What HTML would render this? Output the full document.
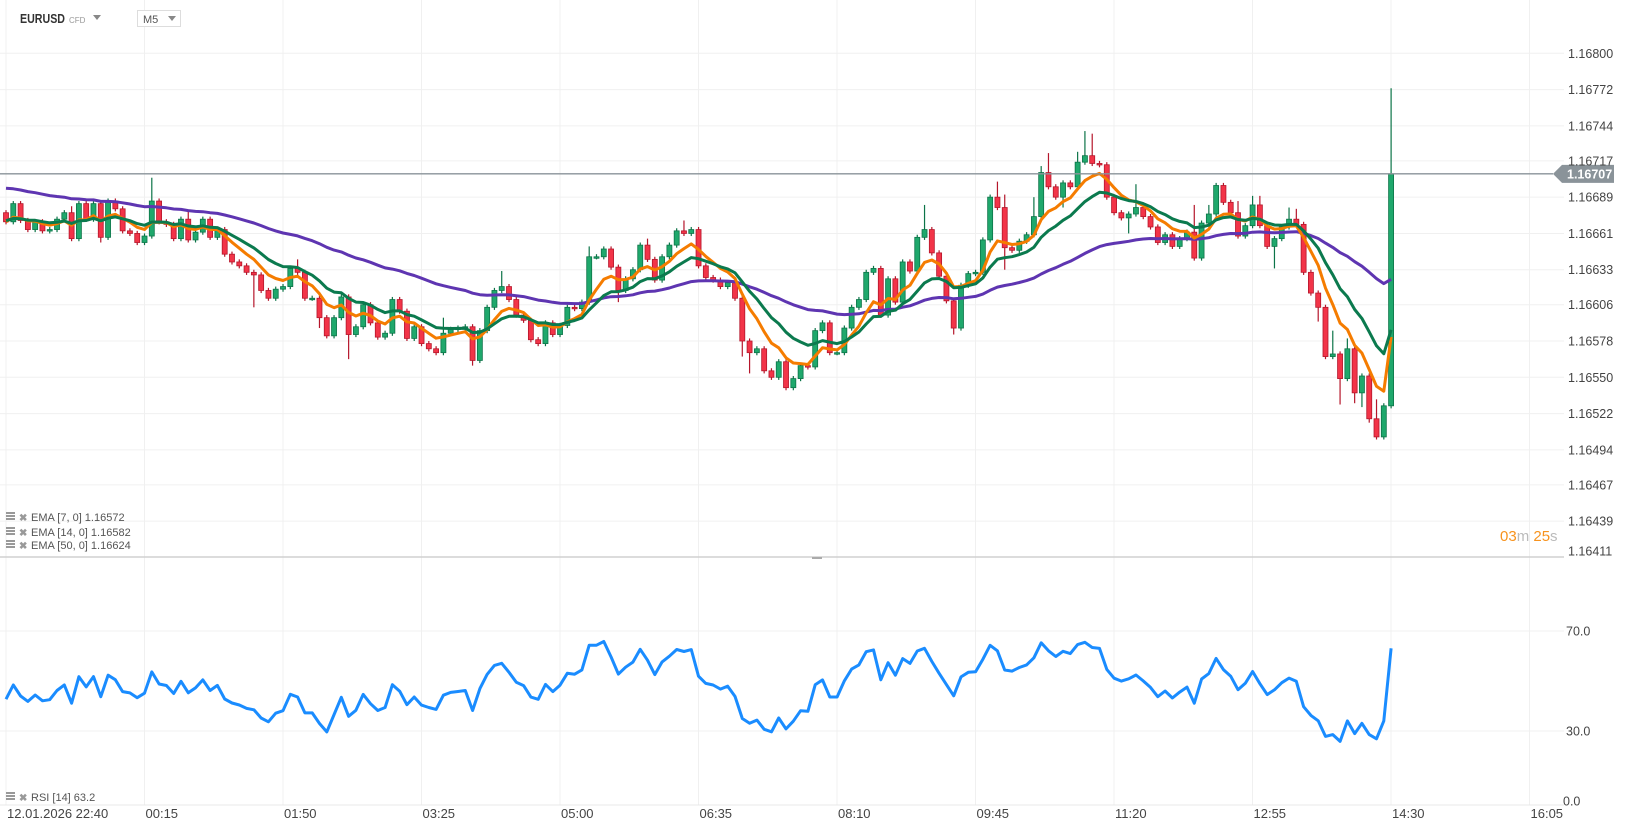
<!DOCTYPE html>
<html><head><meta charset="utf-8"><title>EURUSD M5</title>
<style>
html,body{margin:0;padding:0;background:#fff;width:1626px;height:831px;overflow:hidden;}
svg{display:block;font-family:"Liberation Sans",Arial,sans-serif;}
</style></head>
<body>
<svg id="chart" width="1626" height="831" viewBox="0 0 1626 831" xmlns="http://www.w3.org/2000/svg">
  <g id="grid"></g>
  <g id="header">
    <text x="20" y="23" font-size="13" font-weight="bold" fill="#333" textLength="45" lengthAdjust="spacingAndGlyphs">EURUSD</text>
    <text x="69" y="23" font-size="8" fill="#999">CFD</text>
    <path d="M93 15 L101 15 L97 20 Z" fill="#888"/>
    <rect x="137.5" y="10.5" width="43" height="16" fill="#fff" stroke="#ddd"/>
    <text x="143" y="23" font-size="11" fill="#555">M5</text>
    <path d="M168 16 L176 16 L172 21 Z" fill="#888"/>
  </g>
  <g id="candles"></g>
  <g id="emas"></g>
  <g id="rsi"></g>
  <g id="axes"></g>
  <g id="legend"></g>
</svg>
<script>
// ---------- data ----------
const firstOpen = 1.16677;
const closes = [
1.16670,1.16684,1.16671,1.16664,1.16670,1.16663,1.16664,1.16672,1.16677,1.16657,
1.16684,1.16672,1.16684,1.16658,1.16686,1.16680,1.16663,1.16661,1.16654,1.16659,
1.16686,1.16670,1.16668,1.16657,1.16672,1.16656,1.16662,1.16672,1.16658,1.16664,
1.16645,1.16639,1.16636,1.16631,1.16629,1.16617,1.16611,1.16618,1.16620,1.16634,
1.16631,1.16611,1.16611,1.16596,1.16582,1.16596,1.16612,1.16583,1.16589,1.16606,
1.16592,1.16581,1.16584,1.16610,1.16601,1.16580,1.16589,1.16576,1.16572,1.16569,
1.16584,1.16587,1.16588,1.16589,1.16563,1.16586,1.16604,1.16617,1.16620,1.16610,
1.16598,1.16594,1.16579,1.16576,1.16592,1.16583,1.16590,1.16604,1.16603,1.16608,
1.16643,1.16643,1.16649,1.16635,1.16617,1.16626,1.16633,1.16652,1.16641,1.16625,
1.16643,1.16652,1.16663,1.16661,1.16664,1.16636,1.16627,1.16625,1.16620,1.16623,
1.16611,1.16578,1.16569,1.16572,1.16555,1.16550,1.16562,1.16542,1.16549,1.16559,
1.16558,1.16586,1.16592,1.16569,1.16569,1.16588,1.16604,1.16610,1.16631,1.16634,
1.16598,1.16626,1.16608,1.16639,1.16632,1.16658,1.16664,1.16646,1.16628,1.16609,
1.16588,1.16621,1.16630,1.16631,1.16656,1.16689,1.16681,1.16650,1.16648,1.16655,
1.16660,1.16674,1.16708,1.16697,1.16689,1.16700,1.16697,1.16716,1.16721,1.16715,
1.16714,1.16689,1.16677,1.16673,1.16676,1.16681,1.16674,1.16666,1.16654,1.16660,
1.16651,1.16657,1.16662,1.16642,1.16669,1.16676,1.16698,1.16685,1.16677,1.16659,
1.16667,1.16683,1.16667,1.16651,1.16657,1.16666,1.16672,1.16668,1.16631,1.16615,
1.16604,1.16566,1.16568,1.16549,1.16572,1.16538,1.16551,1.16518,1.16504,1.16528,
1.16707];
const wickUpPips = [
2,2,2,2,2,2,2,2,2,5, 2,2,2,2,2,2,2,2,2,2, 18,2,2,2,2,7,2,2,2,2, 2,2,2,2,2,2,2,2,2,2,
7,2,2,2,2,2,2,2,2,2, 2,2,2,2,2,2,2,2,2,2, 12,2,2,2,2,2,2,2,12,2, 2,2,2,2,2,2,2,2,2,2,
8,2,2,2,2,2,2,2,5,2, 2,2,2,8,2,2,2,2,2,2, 2,2,2,2,2,2,2,2,2,2, 2,2,2,2,2,2,2,2,2,2,
2,2,2,2,2,2,19,2,2,2, 2,2,2,2,2,2,12,10,2,2, 2,15,5,15,2,2,2,8,19,17, 2,2,2,2,2,18,2,2,2,2,
2,2,2,21,2,7,2,2,2,9, 2,7,7,2,2,2,9,8,2,2, 2,2,18,2,8,2,2,2,15,2, 66];
const wickDnPips = [
2,2,2,2,2,2,2,2,2,2, 2,2,2,4,2,2,2,2,2,2, 2,2,2,2,2,2,2,2,2,2, 2,2,2,2,25,2,2,2,2,2,
2,2,2,8,2,2,2,19,2,2, 2,2,2,2,2,2,2,2,2,2, 2,2,2,2,4,2,2,2,2,2, 2,2,2,2,2,2,2,2,2,2,
2,2,2,2,9,2,2,2,2,2, 2,2,2,2,2,2,2,2,2,2, 2,12,16,2,2,2,2,2,2,2, 2,2,2,2,2,2,2,2,2,2,
2,2,2,2,2,2,2,2,2,2, 5,2,2,2,2,2,2,17,2,2, 2,2,2,2,2,8,2,2,2,2, 2,2,2,2,12,2,2,2,2,2,
2,2,2,2,2,2,2,2,2,2, 2,2,2,2,17,2,2,2,2,2, 11,2,2,20,2,8,11,3,2,2, 2];
const emaSeeds = [1.16670, 1.16671, 1.16697];
const emaPeriods = [7, 14, 50];
const emaColors = ["#f57c00", "#0b7a4e", "#5e35b1"];
const rsiSeedGain = 0.000045, rsiSeedLoss = 0.000055;
const priceTicks = [1.16800,1.16772,1.16744,1.16717,1.16689,1.16661,1.16633,1.16606,1.16578,1.16550,1.16522,1.16494,1.16467,1.16439,1.16411];
const timeLabels = ["12.01.2026  22:40","00:15","01:50","03:25","05:00","06:35","08:10","09:45","11:20","12:55","14:30","16:05"];
const rsiTicks = [70, 30, 0];

// ---------- scales ----------
const NS = "http://www.w3.org/2000/svg";
const xOf = i => 6 + 7.29 * i;
const yOf = p => 53.3 + (1.168 - p) * 129600;
const rY = r => 806 - 2.5 * r;
const mk = (tag, attrs, parent) => { const e = document.createElementNS(NS, tag); for (const k in attrs) e.setAttribute(k, attrs[k]); parent.appendChild(e); return e; };

// ---------- grid ----------
const grid = document.getElementById("grid");
timeLabels.forEach((t, k) => {
  const x = 6 + 138.5 * k;
  const l = mk("line", {x1: x, x2: x, y1: 0, y2: 805, stroke: "#f0f0f0", "stroke-width": 1}, grid);
  
  
});
priceTicks.forEach(p => {
  const y = yOf(p);
  if (y > 556) return;
  const l = mk("line", {x1: 0, x2: 1564, y1: y, y2: y, stroke: "#f0f0f0", "stroke-width": 1}, grid);
  
  
});
[70, 30].forEach(r => {
  const l = mk("line", {x1: 0, x2: 1564, y1: rY(r), y2: rY(r), stroke: "#f0f0f0", "stroke-width": 1}, grid);
  
  
});

// ---------- candles ----------
const cg = document.getElementById("candles");
for (let i = 0; i < closes.length; i++) {
  const o = i === 0 ? firstOpen : closes[i - 1];
  const c = closes[i];
  const up = c >= o;
  const hi = Math.max(o, c) + wickUpPips[i] * 1e-5;
  const lo = Math.min(o, c) - wickDnPips[i] * 1e-5;
  const x = xOf(i);
  const fill = up ? "#1fa86c" : "#f23448";
  const stroke = up ? "#0c7448" : "#b5162b";
  const w = mk("line", {x1: x, x2: x, y1: yOf(hi), y2: yOf(lo), stroke: stroke, "stroke-width": 1.2}, cg);
  
  
  const yt = yOf(Math.max(o, c)), yb = yOf(Math.min(o, c));
  const b = mk("rect", {x: x - 2.5, y: yt, width: 5, height: Math.max(1.5, yb - yt), fill: fill, stroke: stroke, "stroke-width": 0.8}, cg);
  
  
}

// ---------- EMAs ----------
const eg = document.getElementById("emas");
emaPeriods.forEach((n, k) => {
  const a = 2 / (n + 1);
  let e = emaSeeds[k];
  const pts = [];
  for (let i = 0; i < closes.length; i++) {
    e = e + a * (closes[i] - e);
    pts.push(xOf(i).toFixed(1) + "," + yOf(e).toFixed(1));
  }
  const pl = mk("polyline", {points: pts.join(" "), fill: "none", stroke: emaColors[k], "stroke-width": 3, "stroke-linejoin": "round"}, eg);
  
  
});
eg.insertBefore(eg.lastChild, eg.firstChild);

// ---------- current price line ----------
const ax = document.getElementById("axes");
const last = closes[closes.length - 1];
const py = yOf(last);
const pline = mk("line", {x1: 0, x2: 1553, y1: py, y2: py, stroke: "#8a9399", "stroke-width": 1.3}, ax);


const tag = mk("path", {d: `M1553 ${py} L1562 ${py-9} L1614 ${py-9} L1614 ${py+9} L1562 ${py+9} Z`, fill: "#8a9399"}, ax);


const tagT = mk("text", {x: 1567, y: py + 4.5, "font-size": 12.5, "font-weight": "bold", fill: "#fff"}, ax);
tagT.textContent = last.toFixed(5);



// ---------- price axis labels ----------
priceTicks.forEach(p => {
  const y = yOf(p);
  if (Math.abs(y - py) < 12 && p !== 1.16717) return;
  const t = mk("text", {x: 1568, y: Math.min(y, 551) + 4.5, "font-size": 12.5, fill: "#444"}, ax);
  t.textContent = p.toFixed(5);
  
  
});
const cd = mk("text", {x: 1500, y: 541, "font-size": 15}, ax);


cd.innerHTML = '<tspan fill="#f7931e">03</tspan><tspan fill="#bbb">m </tspan><tspan fill="#f7931e">25</tspan><tspan fill="#bbb">s</tspan>';

const sep = mk("line", {x1: 0, x2: 1564, y1: 557, y2: 557, stroke: "#d0d0d0", "stroke-width": 1.5}, ax);


const handle = mk("rect", {x: 812, y: 557, width: 10, height: 2, fill: "#aaa"}, ax);


const bl = mk("line", {x1: 0, x2: 1564, y1: 805, y2: 805, stroke: "#e8e8e8", "stroke-width": 1}, ax);



timeLabels.forEach((t, k) => {
  const tx = mk("text", {x: 7 + 138.5 * k, y: 818, "font-size": 13, fill: "#444"}, ax);
  tx.setAttribute("xml:space", "preserve");
  tx.textContent = t;
  
  
});

// ---------- RSI ----------
const rg = document.getElementById("rsi");
let ag = rsiSeedGain, al = rsiSeedLoss;
const rpts = [];
let rLast = 50;
for (let i = 0; i < closes.length; i++) {
  const prev = i === 0 ? firstOpen : closes[i - 1];
  const d = closes[i] - prev;
  ag = (ag * 13 + Math.max(d, 0)) / 14;
  al = (al * 13 + Math.max(-d, 0)) / 14;
  rLast = al === 0 ? 100 : 100 - 100 / (1 + ag / al);
  rpts.push(xOf(i).toFixed(1) + "," + rY(rLast).toFixed(1));
}
const rl = mk("polyline", {points: rpts.join(" "), fill: "none", stroke: "#1a8cff", "stroke-width": 3, "stroke-linejoin": "round"}, rg);


rsiTicks.forEach(r => {
  const t = mk("text", {x: r === 0 ? 1563 : 1566, y: (r === 0 ? 801 : rY(r)) + 4.5, "font-size": 12.5, fill: "#444"}, rg);
  t.textContent = r.toFixed(1);
  
  
});

// ---------- legend ----------
const lg = document.getElementById("legend");
function legendRow(y, label, name) {
  const g = mk("g", {}, lg);
  
  
  mk("rect", {x: 6, y: y - 9, width: 9, height: 2, fill: "#999"}, g);
  mk("rect", {x: 6, y: y - 6, width: 9, height: 2, fill: "#999"}, g);
  mk("rect", {x: 6, y: y - 3, width: 9, height: 2, fill: "#999"}, g);
  const x = mk("text", {x: 19, y: y, "font-size": 10, "font-weight": "bold", fill: "#999"}, g);
  x.textContent = "✖";
  const t = mk("text", {x: 31, y: y, "font-size": 11, fill: "#555"}, g);
  t.setAttribute("xml:space", "preserve");
  t.textContent = label;
}
legendRow(521, "EMA [7,  0] 1.16572", "ema-7-legend");
legendRow(536, "EMA [14,  0] 1.16582", "ema-14-legend");
legendRow(549, "EMA [50,  0] 1.16624", "ema-50-legend");
legendRow(801, "RSI  [14]  63.2", "rsi-legend");
</script>
</body></html>
